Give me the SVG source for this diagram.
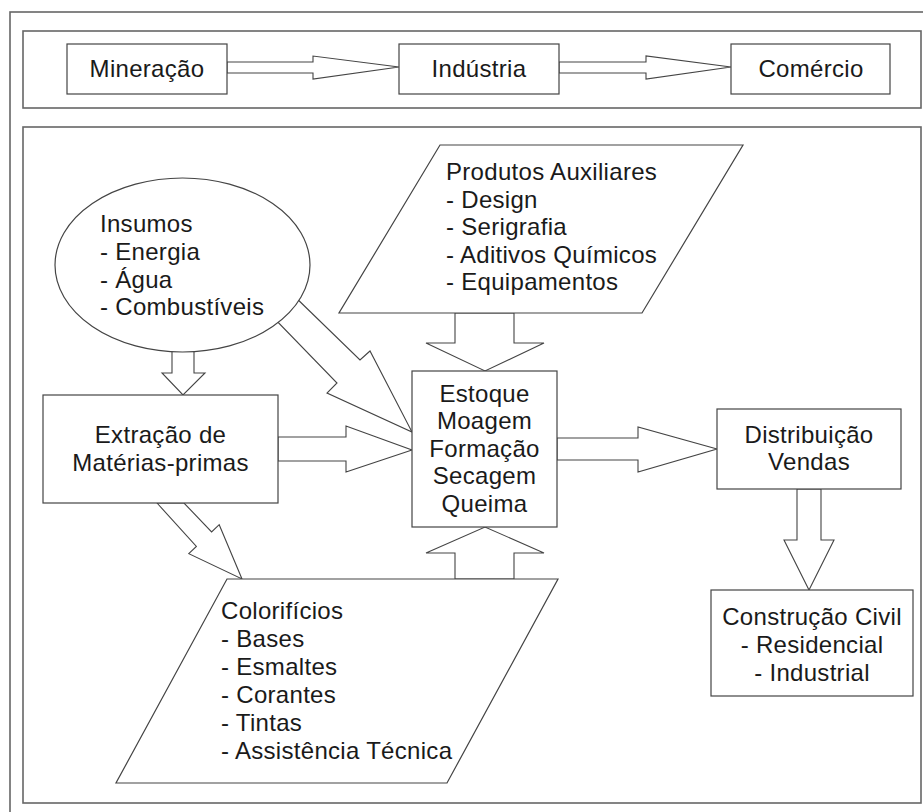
<svg xmlns="http://www.w3.org/2000/svg" width="923" height="812" viewBox="0 0 923 812">
<style>
.frame{fill:none;stroke:#666;stroke-width:1.6}
.box{fill:#fff;stroke:#444;stroke-width:1.2}
.arr{fill:#fff;stroke:#444;stroke-width:1.1;stroke-linejoin:miter}
text{font-family:"Liberation Sans",Arial,sans-serif;font-size:24px;fill:#1a1a1a;letter-spacing:0.3px}
.c{text-anchor:middle}
</style>
<rect width="923" height="812" fill="#fff"/>
<rect class="frame" x="10" y="12" width="930" height="820"/>
<rect class="frame" x="23" y="31" width="898" height="77"/>
<rect class="frame" x="23" y="127" width="898" height="676"/>

<g id="connectors">
  <polygon class="arr" points="227,62 313,62 313,56 399,67 313,79 313,73 227,73"/>
  <polygon class="arr" points="559,62 646,62 646,56 731,67 646,79 646,73 559,73"/>
  <polygon class="arr" points="172,330 172,373 162,373 183,395 205,373 194,373 194,330"/>
  <polygon class="arr" points="290,292 360,360 370,351 412,432 327,393 337,383 269,313"/>
  <polygon class="arr" points="278,437 346,437 346,426 412,450 346,472 346,461 278,461"/>
  <polygon class="arr" points="455,313 455,343 426,343 485,371 544,343 514,343 514,313"/>
  <polygon class="arr" points="455,579 455,553 426,553 485,527 544,553 514,553 514,579"/>
  <polygon class="arr" points="557,438 638,438 638,427 717,449 638,472 638,460 557,460"/>
  <polygon class="arr" points="157,503 196.4,546.4 188.8,553.7 242,579 219.2,524.7 211.6,532 184,503"/>
  <polygon class="arr" points="797,489 797,540 784,540 809,590 834,540 821,540 821,489"/>
</g>

<g id="mineracao">
  <rect class="box" x="67" y="44" width="160" height="50"/>
  <text class="c" x="147" y="77">Mineração</text>
</g>
<g id="industria">
  <rect class="box" x="399" y="44" width="160" height="50"/>
  <text class="c" x="479" y="77">Indústria</text>
</g>
<g id="comercio">
  <rect class="box" x="731" y="44" width="159" height="50"/>
  <text class="c" x="811" y="77">Comércio</text>
</g>

<g id="insumos">
  <ellipse class="box" cx="182.5" cy="265" rx="127.5" ry="87"/>
  <text x="100" y="232">Insumos</text>
  <text x="100" y="260">- Energia</text>
  <text x="100" y="288">- Água</text>
  <text x="100" y="315">- Combustíveis</text>
</g>

<g id="produtos">
  <polygon class="box" points="440,145 743,145 642,313 339,313"/>
  <text x="446" y="180">Produtos Auxiliares</text>
  <text x="446" y="208">- Design</text>
  <text x="446" y="235">- Serigrafia</text>
  <text x="446" y="263">- Aditivos Químicos</text>
  <text x="446" y="290">- Equipamentos</text>
</g>

<g id="extracao">
  <rect class="box" x="43" y="395" width="235" height="108"/>
  <text class="c" x="160.5" y="443">Extração de</text>
  <text class="c" x="160.5" y="471">Matérias-primas</text>
</g>

<g id="processo">
  <rect class="box" x="412" y="371" width="145" height="156"/>
  <text class="c" x="484.5" y="402">Estoque</text>
  <text class="c" x="484.5" y="429">Moagem</text>
  <text class="c" x="484.5" y="457">Formação</text>
  <text class="c" x="484.5" y="484">Secagem</text>
  <text class="c" x="484.5" y="512">Queima</text>
</g>

<g id="distribuicao">
  <rect class="box" x="717" y="409" width="184" height="80"/>
  <text class="c" x="809" y="443">Distribuição</text>
  <text class="c" x="809" y="470">Vendas</text>
</g>

<g id="construcao">
  <rect class="box" x="711" y="590" width="202" height="106"/>
  <text class="c" x="812" y="625">Construção Civil</text>
  <text class="c" x="812" y="653">- Residencial</text>
  <text class="c" x="812" y="681">- Industrial</text>
</g>

<g id="colorificios">
  <polygon class="box" points="227,579 558,579 447,783 116,783"/>
  <text x="221" y="619">Colorifícios</text>
  <text x="221" y="647">- Bases</text>
  <text x="221" y="675">- Esmaltes</text>
  <text x="221" y="703">- Corantes</text>
  <text x="221" y="731">- Tintas</text>
  <text x="221" y="759">- Assistência Técnica</text>
</g>
</svg>
